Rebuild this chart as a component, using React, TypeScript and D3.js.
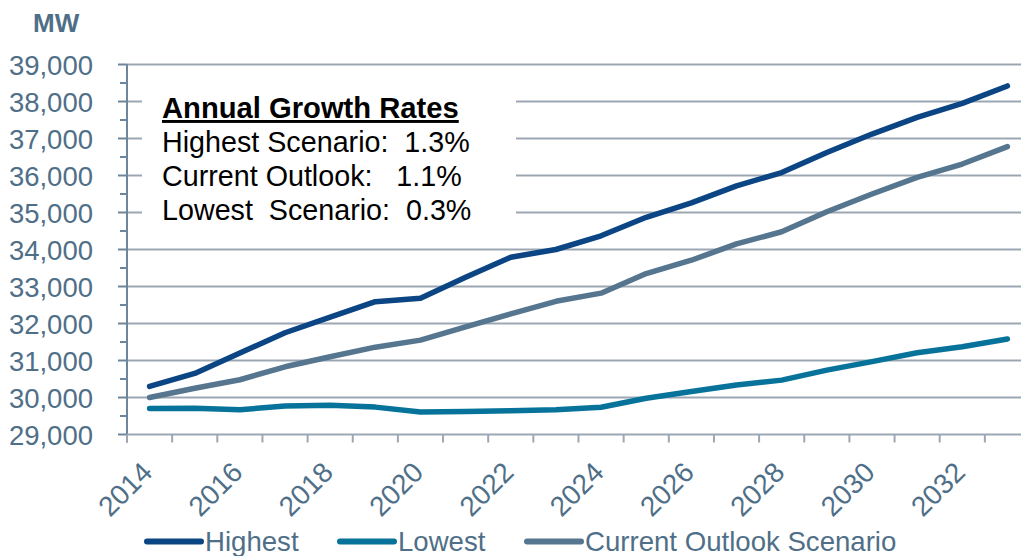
import * as d3 from 'd3';

// values (MW)
const years = [2014, 2015, 2016, 2017, 2018, 2019, 2020, 2021, 2022, 2023, 2024, 2025, 2026, 2027, 2028, 2029, 2030, 2031, 2032, 2033];
const highest = [30300, 30650, 31200, 31750, 32170, 32590, 32680, 33250, 33790, 34000, 34370, 34870, 35260, 35720, 36080, 36620, 37120, 37570, 37950, 38420];
const lowest = [29700, 29710, 29670, 29770, 29790, 29740, 29610, 29620, 29645, 29670, 29735, 29980, 30160, 30340, 30470, 30740, 30970, 31210, 31370, 31580];
const current = [30000, 30250, 30480, 30830, 31100, 31360, 31550, 31910, 32260, 32600, 32820, 33350, 33710, 34150, 34480, 35020, 35500, 35950, 36310, 36780];
const yTicks = [29000, 30000, 31000, 32000, 33000, 34000, 35000, 36000, 37000, 38000, 39000];
const growthTitle = 'Annual Growth Rates';
const growthLines = ['Highest Scenario:\u00a0\u00a01.3%', 'Current Outlook:\u00a0\u00a0\u00a01.1%', 'Lowest\u00a0\u00a0Scenario:\u00a0\u00a00.3%'];

const series = [
  { name: 'Highest', values: highest, color: '#0b4583', lx: 147 },
  { name: 'Lowest', values: lowest, color: '#08739a', lx: 340 },
  { name: 'Current Outlook Scenario', values: current, color: '#56768f', lx: 527 },
];

const W = 1021;
const H = 556;
const font = '"Liberation Sans", Arial, sans-serif';
const labelColor = '#4f6f88';
const gridColor = '#9ba7b3';
const axisColor = '#6d869b';

export default function App() {
  const x = d3.scaleBand<number>().domain(years).range([127, 1030]);
  const y = d3.scaleLinear().domain([29000, 39000]).range([434.5, 64.5]);
  const cx = (yr: number) => (x(yr) as number) + x.bandwidth() / 2;

  const line = d3
    .line<number>()
    .x((_, i) => cx(years[i]))
    .y((v) => y(v));

  const minor = d3.range(29500, 39000, 1000);

  return (
    <svg width={W} height={H} style={{ position: 'absolute', left: 0, top: 0, background: '#fff' }} fontFamily={font}>
      <text x={33} y={32} fontSize={26} fontWeight="bold" fill={labelColor}>MW</text>

      {/* gridlines */}
      {yTicks.slice(1).map((t) => (
        <line key={t} x1={127} x2={W} y1={y(t)} y2={y(t)} stroke={gridColor} strokeWidth={2} />
      ))}

      {/* growth rate box */}
      <rect x={142} y={80} width={374} height={155} fill="#fff" />
      <text x={162} y={118} fontSize={29.2} fontWeight="bold" fill="#000" textDecoration="underline">{growthTitle}</text>
      {growthLines.map((s, i) => (
        <text key={s} x={162} y={152 + i * 34} fontSize={28.7} fill="#000">{s}</text>
      ))}

      {/* y axis */}
      <line x1={127} x2={127} y1={y(39000)} y2={y(29000) + 8} stroke={axisColor} strokeWidth={2} />
      {yTicks.map((t) => (
        <g key={t}>
          <line x1={118} x2={127} y1={y(t)} y2={y(t)} stroke={axisColor} strokeWidth={2} />
          <text x={93} y={y(t) + 10} fontSize={27.5} textAnchor="end" fill={labelColor}>{d3.format(',')(t)}</text>
        </g>
      ))}
      {minor.map((t) => (
        <line key={t} x1={120} x2={127} y1={y(t)} y2={y(t)} stroke={axisColor} strokeWidth={2} />
      ))}

      {/* x axis */}
      <line x1={127} x2={W} y1={y(29000)} y2={y(29000)} stroke={gridColor} strokeWidth={2} />
      {years.map((yr) => (
        <line key={yr} x1={x(yr)} x2={x(yr)} y1={y(29000)} y2={y(29000) + 8} stroke={gridColor} strokeWidth={2} />
      ))}
      {years.filter((yr) => yr % 2 === 0).map((yr) => (
        <text
          key={yr}
          transform={`translate(${cx(yr) + 4.5},${474}) rotate(-45)`}
          fontSize={28}
          textAnchor="end"
          fill={labelColor}
        >
          {yr}
        </text>
      ))}

      {/* series */}
      {series.map((s) => (
        <path key={s.name} d={line(s.values) ?? ''} fill="none" stroke={s.color} strokeWidth={5.5} strokeLinecap="round" strokeLinejoin="round" />
      ))}

      {/* legend */}
      {series.map((s) => (
        <g key={s.name}>
          <line x1={s.lx} x2={s.lx + 54} y1={541.5} y2={541.5} stroke={s.color} strokeWidth={6} strokeLinecap="round" />
          <text x={s.lx + 58} y={551} fontSize={27.6} fill={labelColor}>{s.name}</text>
        </g>
      ))}
    </svg>
  );
}
